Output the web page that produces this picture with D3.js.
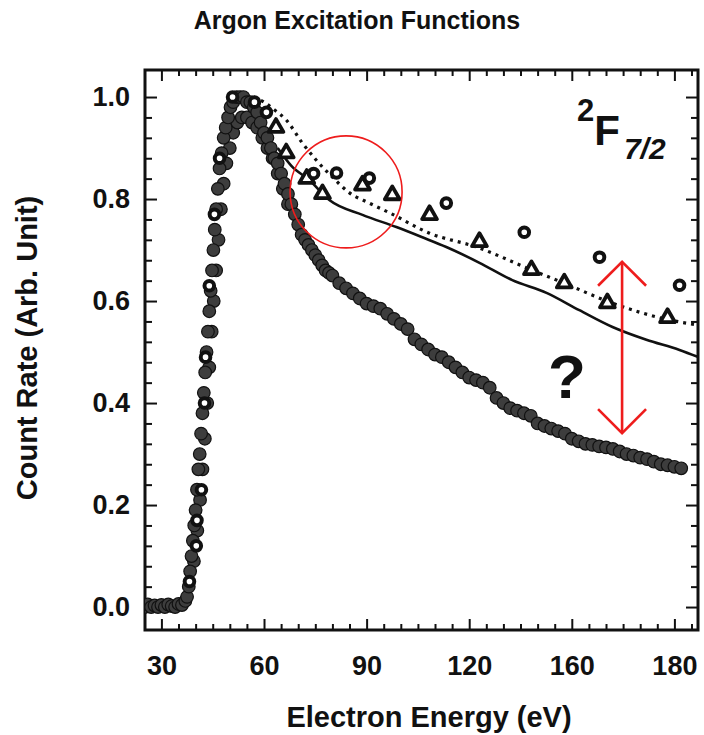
<!DOCTYPE html>
<html>
<head>
<meta charset="utf-8">
<script src="https://cdn.jsdelivr.net/npm/d3@7"></script>
<style>
  body { margin: 0; background: #fff; }
  text { font-family: "Liberation Sans", Arial, sans-serif; font-weight: bold; fill: #111; }
</style>
</head>
<body>
<div id="chart"></div>
<script>
// chart values
var xTickVals = [30, 60, 90, 120, 150, 180];
var xTickLabels = ["30", "60", "90", "120", "160", "180"];
var yTickVals = [0, 0.2, 0.4, 0.6, 0.8, 1.0];
var yTickLabels = ["0.0", "0.2", "0.4", "0.6", "0.8", "1.0"];

// measured count rate (filled circles), [energy eV, rate]
var filledPts = [
    [25, 0.0], [26, 0.005], [27, 0.0], [28, 0.003], [29, 0.0], [30, 0.004], [31, 0.0],
    [32, 0.005], [33, 0.002], [34, 0.0], [35, 0.006], [36, 0.004], [37, 0.012],
    [37.5, 0.02], [38, 0.04], [38.4, 0.07], [38.8, 0.10], [39.2, 0.13], [39.6, 0.16],
    [40, 0.19], [40.4, 0.23], [40.8, 0.27], [41.2, 0.30], [41.6, 0.34], [42, 0.38],
    [42.4, 0.42], [42.8, 0.46], [43.2, 0.50], [43.6, 0.54], [44, 0.58], [44.4, 0.62],
    [44.8, 0.66], [45.2, 0.70], [45.6, 0.74], [46, 0.78], [46.5, 0.82], [47, 0.86],
    [47.6, 0.89], [48.2, 0.92], [48.8, 0.94], [49.5, 0.96], [50.2, 0.98], [51, 0.99],
    [52, 1.0], [53, 1.0], [54, 1.0], [55, 0.99], [56, 0.99], [57, 0.98], [58, 0.97],
    [59, 0.95], [60, 0.93], [61, 0.92], [62, 0.90], [63, 0.88], [64, 0.87], [65, 0.85],
    [66, 0.83], [67, 0.81], [68, 0.79], [69, 0.77], [70, 0.75], [71, 0.73], [72, 0.72],
    [73, 0.71], [74, 0.70], [75, 0.69], [76, 0.68], [77, 0.67], [78, 0.66], [79, 0.655],
    [80, 0.65], [82, 0.635], [84, 0.625], [86, 0.615], [88, 0.605], [90, 0.595],
    [92, 0.59], [94, 0.585], [96, 0.575], [98, 0.565], [100, 0.555], [102, 0.545],
    [104, 0.525], [106, 0.515], [108, 0.505], [110, 0.495], [112, 0.49], [114, 0.48],
    [116, 0.47], [118, 0.46], [120, 0.45], [122, 0.445], [124, 0.44], [126, 0.43],
    [128, 0.41], [130, 0.40], [132, 0.39], [134, 0.385], [136, 0.38], [138, 0.375],
    [140, 0.36], [142, 0.355], [144, 0.35], [146, 0.345], [148, 0.34], [150, 0.33],
    [152, 0.325], [154, 0.32], [156, 0.318], [158, 0.315], [160, 0.313], [162, 0.31],
    [164, 0.305], [166, 0.30], [168, 0.297], [170, 0.293], [172, 0.29], [174, 0.285],
    [176, 0.28], [178, 0.278], [180, 0.275], [182, 0.272]
];

// second run of filled points overlapping the rise and the peak
var filledRun2 = [
    [39.5, 0.09], [40.5, 0.15], [41.3, 0.21], [42, 0.27], [42.7, 0.33], [43.4, 0.40],
    [44, 0.47], [44.7, 0.54], [45.3, 0.60], [46, 0.66], [46.7, 0.72], [47.4, 0.78],
    [48.2, 0.83], [49, 0.87], [50, 0.90], [51, 0.93], [52.2, 0.95], [53.5, 0.96],
    [55, 0.96], [56.5, 0.95], [58, 0.94], [59.5, 0.92], [61, 0.90], [62.5, 0.88],
    [64, 0.85], [65.5, 0.82], [67, 0.79]
];

// open circles
var openPts = [
    [38.2, 0.05], [40.2, 0.12], [40.4, 0.17], [41.7, 0.23], [42.6, 0.40], [42.9, 0.49],
    [44, 0.63], [45.5, 0.77], [47, 0.88], [50.8, 1.0], [57.2, 0.99], [60.7, 0.97],
    [74.5, 0.85], [81.2, 0.851], [90.8, 0.841], [113.3, 0.792], [136.1, 0.735],
    [158.1, 0.686], [181.5, 0.631]
];

// open triangles
var triPts = [
    [63.5, 0.94], [66.5, 0.89], [72.5, 0.84], [77.1, 0.81], [88.8, 0.827], [97.5, 0.808],
    [108.4, 0.769], [123, 0.716], [138.2, 0.661], [147.8, 0.635], [160.4, 0.596], [178, 0.567]
];

// dotted theory curve
var dottedPts = [
    [57, 1.0], [60, 0.99], [63, 0.975], [66.5, 0.955], [71.2, 0.91], [75.3, 0.876],
    [80, 0.843], [85, 0.812], [90.8, 0.792], [96.7, 0.773], [108.4, 0.733], [122.1, 0.706],
    [138.2, 0.661], [147.8, 0.635], [161, 0.598], [178.5, 0.563], [187, 0.553]
];

// solid theory curve
var solidPts = [
    [64, 0.9], [68, 0.865], [73.3, 0.837], [79.1, 0.798], [88.8, 0.769], [98.7, 0.745],
    [106.3, 0.725], [113.3, 0.706], [123, 0.675], [132.6, 0.641], [142.6, 0.616],
    [152.2, 0.582], [161.9, 0.549], [171.8, 0.524], [181.5, 0.504], [187, 0.49]
];

var svgWidth = 704;
var svgHeight = 735;

// plot frame
var frame = { left: 145, right: 698, top: 70, bottom: 630 };

var svg = d3.select("#chart")
    .append("svg")
    .attr("width", svgWidth)
    .attr("height", svgHeight);

svg.append("rect")
    .attr("width", svgWidth)
    .attr("height", svgHeight)
    .attr("fill", "#fff");

var x = d3.scaleLinear()
    .domain([25.2, 186.9])
    .range([frame.left, frame.right]);

var y = d3.scaleLinear()
    .domain([-0.045, 1.053])
    .range([frame.bottom, frame.top]);

// clip marks to the frame
svg.append("clipPath").attr("id", "plotClip")
    .append("rect")
    .attr("x", frame.left)
    .attr("y", frame.top)
    .attr("width", frame.right - frame.left)
    .attr("height", frame.bottom - frame.top);

// axes (ticks point inward)
function styleAxis(g) {
    g.select(".domain").remove();
    g.selectAll(".tick line").attr("stroke", "#111").attr("stroke-width", 2);
    g.selectAll("text").style("font-size", "27px").attr("fill", "#111");
}

var xMinor = d3.range(35, 186, 5).filter(d => d % 30 !== 0);
var yMinor = d3.range(0, 26).map(i => +(i * 0.04).toFixed(2)).filter(d => Math.abs(d * 5 - Math.round(d * 5)) > 1e-6);

svg.append("g")
    .attr("transform", `translate(0, ${frame.bottom})`)
    .call(d3.axisBottom(x).tickValues(xTickVals).tickSize(-11).tickPadding(26)
        .tickFormat((d, i) => xTickLabels[i]))
    .call(styleAxis);
svg.append("g")
    .attr("transform", `translate(0, ${frame.bottom})`)
    .call(d3.axisBottom(x).tickValues(xMinor).tickSize(-6).tickFormat(""))
    .call(styleAxis);
svg.append("g")
    .attr("transform", `translate(0, ${frame.top})`)
    .call(d3.axisTop(x).tickValues(xTickVals).tickSize(-11).tickFormat(""))
    .call(styleAxis);
svg.append("g")
    .attr("transform", `translate(0, ${frame.top})`)
    .call(d3.axisTop(x).tickValues(xMinor).tickSize(-6).tickFormat(""))
    .call(styleAxis);

svg.append("g")
    .attr("transform", `translate(${frame.left}, 0)`)
    .call(d3.axisLeft(y).tickValues(yTickVals).tickSize(-12).tickPadding(15)
        .tickFormat((d, i) => yTickLabels[i]))
    .call(styleAxis);
svg.append("g")
    .attr("transform", `translate(${frame.left}, 0)`)
    .call(d3.axisLeft(y).tickValues(yMinor).tickSize(-7).tickFormat(""))
    .call(styleAxis);
svg.append("g")
    .attr("transform", `translate(${frame.right}, 0)`)
    .call(d3.axisRight(y).tickValues(yTickVals).tickSize(-12).tickFormat(""))
    .call(styleAxis);
svg.append("g")
    .attr("transform", `translate(${frame.right}, 0)`)
    .call(d3.axisRight(y).tickValues(yMinor).tickSize(-7).tickFormat(""))
    .call(styleAxis);

svg.append("rect")
    .attr("x", frame.left)
    .attr("y", frame.top)
    .attr("width", frame.right - frame.left)
    .attr("height", frame.bottom - frame.top)
    .attr("fill", "none")
    .attr("stroke", "#111")
    .attr("stroke-width", 3);

var plot = svg.append("g").attr("clip-path", "url(#plotClip)");

// theory lines
var line = d3.line()
    .x(d => x(d[0]))
    .y(d => y(d[1]))
    .curve(d3.curveMonotoneX);

plot.append("path")
    .datum(solidPts)
    .attr("d", line)
    .attr("fill", "none")
    .attr("stroke", "#111")
    .attr("stroke-width", 2.6);

plot.append("path")
    .datum(dottedPts)
    .attr("d", line)
    .attr("fill", "none")
    .attr("stroke", "#111")
    .attr("stroke-width", 3.2)
    .attr("stroke-dasharray", "3,5");

// filled circles
plot.selectAll(".filled")
    .data(filledRun2.concat(filledPts))
    .enter()
    .append("circle")
    .attr("class", "filled")
    .attr("cx", d => x(d[0]))
    .attr("cy", d => y(d[1]))
    .attr("r", 6.3)
    .attr("fill", "#3d3d3d")
    .attr("stroke", "#111")
    .attr("stroke-width", 1.2);

// triangles
plot.selectAll(".tri")
    .data(triPts)
    .enter()
    .append("path")
    .attr("class", "tri")
    .attr("d", d3.symbol().type(d3.symbolTriangle).size(95))
    .attr("transform", d => `translate(${x(d[0])}, ${y(d[1])})`)
    .attr("fill", "#fff")
    .attr("stroke", "#111")
    .attr("stroke-width", 3.8)
    .attr("stroke-linejoin", "round");

// open circles
plot.selectAll(".open")
    .data(openPts)
    .enter()
    .append("circle")
    .attr("class", "open")
    .attr("cx", d => x(d[0]))
    .attr("cy", d => y(d[1]))
    .attr("r", 4.8)
    .attr("fill", "#fff")
    .attr("stroke", "#111")
    .attr("stroke-width", 4);

// red annotations
svg.append("circle")
    .attr("cx", x(84))
    .attr("cy", y(0.814))
    .attr("r", 56)
    .attr("fill", "none")
    .attr("stroke", "#ee1c1c")
    .attr("stroke-width", 1.6);

var arrowX = x(164.7);
var arrowTop = y(0.677);
var arrowBot = y(0.341);
var red = svg.append("g")
    .attr("stroke", "#ee1c1c")
    .attr("stroke-width", 2.6)
    .attr("fill", "none");
red.append("line")
    .attr("x1", arrowX).attr("x2", arrowX)
    .attr("y1", arrowTop).attr("y2", arrowBot);
red.append("path")
    .attr("d", `M${arrowX - 24},${arrowTop + 24}L${arrowX},${arrowTop}L${arrowX + 24},${arrowTop + 24}`);
red.append("path")
    .attr("d", `M${arrowX - 24},${arrowBot - 24}L${arrowX},${arrowBot}L${arrowX + 24},${arrowBot - 24}`);

svg.append("text")
    .attr("x", x(148.6))
    .attr("y", 398)
    .attr("text-anchor", "middle")
    .style("font-size", "62px")
    .text("?");

// term label 2F7/2
var term = svg.append("text")
    .attr("x", 577)
    .attr("y", 145);
term.append("tspan")
    .attr("dy", -24)
    .style("font-size", "31px")
    .text("2");
term.append("tspan")
    .attr("dy", 24)
    .style("font-size", "42px")
    .text("F");
term.append("tspan")
    .attr("dy", 14)
    .attr("dx", 4)
    .style("font-size", "30px")
    .style("font-style", "italic")
    .text("7/2");

// titles
svg.append("text")
    .attr("x", 357)
    .attr("y", 29)
    .attr("text-anchor", "middle")
    .style("font-size", "25px")
    .text("Argon Excitation Functions");

svg.append("text")
    .attr("x", 429)
    .attr("y", 727)
    .attr("text-anchor", "middle")
    .style("font-size", "29px")
    .text("Electron Energy (eV)");

svg.append("text")
    .attr("transform", "translate(37, 348) rotate(-90)")
    .attr("text-anchor", "middle")
    .style("font-size", "29px")
    .text("Count Rate (Arb. Unit)");
</script>
</body>
</html>
